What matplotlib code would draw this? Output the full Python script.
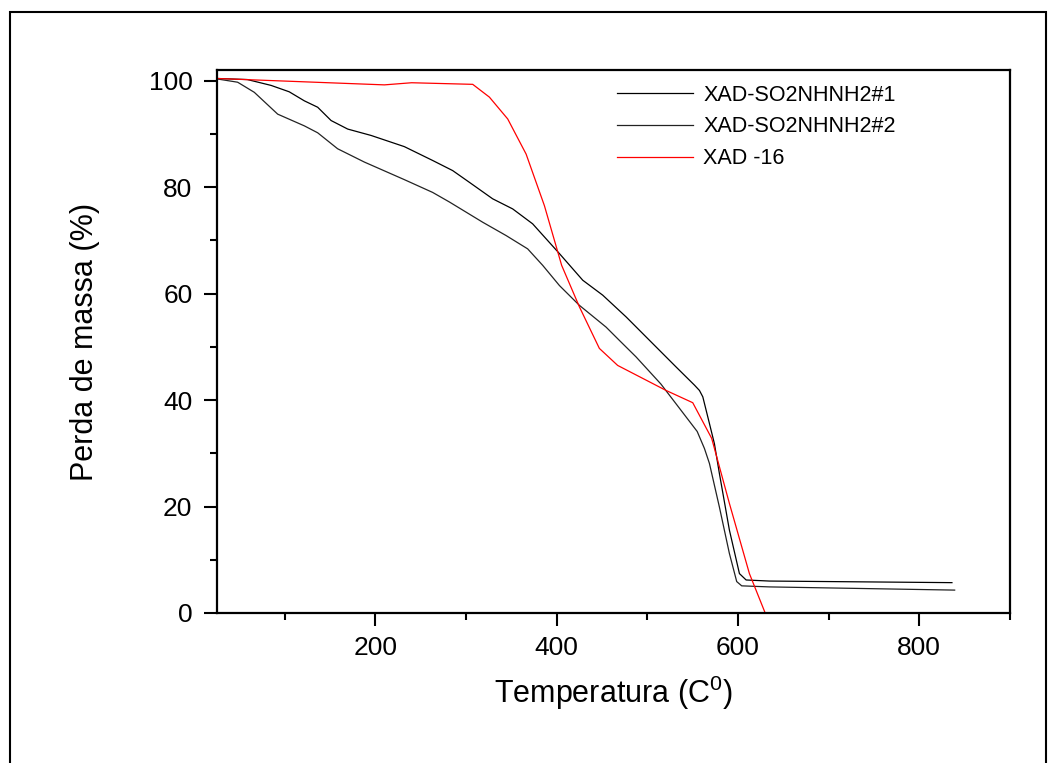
import matplotlib
matplotlib.use("Agg")
import matplotlib.pyplot as plt
from matplotlib.patches import Rectangle
from matplotlib.ticker import MultipleLocator

plt.rcParams["font.family"] = ["Liberation Sans", "DejaVu Sans"]
plt.rcParams["mathtext.fontset"] = "custom"
plt.rcParams["mathtext.rm"] = "Liberation Sans"

# curvas TGA
temp_1 = [25.7, 58.8, 85, 105, 121.7, 136.4, 151.2, 169.5, 195.3, 232, 263.2, 285.3,
          303.7, 329.4, 351.5, 373.5, 388.3, 403.1, 428.8, 450.8, 476.7, 506,
          531.8, 552, 557.5, 561.2, 568.5, 574, 579.5, 590.5, 601.6, 609, 634.6, 836]
mass_1 = [100.4, 100.2, 99.1, 97.9, 96.2, 95.0, 92.5, 90.9, 89.7, 87.6, 85.0, 83.1,
          80.9, 77.8, 75.9, 73.1, 70.3, 67.5, 62.5, 59.7, 55.6, 50.6,
          46.2, 42.8, 41.8, 40.6, 35.6, 31.8, 26.2, 15.6, 7.4, 6.2, 6.0, 5.7]

temp_2 = [26, 48.1, 66.5, 92.3, 121.7, 136.4, 158.4, 187.9, 232, 263.2, 281.7,
          318.4, 344.2, 368, 384.6, 403.1, 425, 454.5, 469.2, 487.6, 515, 533,
          555, 563, 568.5, 579.5, 590.5, 598.6, 604.1, 634.6, 839]
mass_2 = [100.3, 99.7, 97.8, 93.7, 91.5, 90.2, 87.2, 84.7, 81.4, 79.0, 77.2,
          73.4, 70.9, 68.4, 65.3, 61.5, 57.8, 53.7, 51.2, 48.1, 43.0, 39.0,
          34.1, 30.9, 28.1, 19.9, 11.2, 5.9, 5.1, 4.9, 4.3]

temp_xad = [25, 210, 240, 307.4, 325.8, 346, 366.3, 386.5, 405.5, 425.1, 447.1,
            467.3, 520.7, 550.1, 571, 590.5, 612.6, 630]
mass_xad = [100.4, 99.2, 99.6, 99.3, 96.9, 92.8, 86.2, 76.5, 65.3, 57.5, 49.7,
            46.5, 41.8, 39.5, 32.8, 20.6, 7.4, 0.0]

labels = ["XAD-SO2NHNH2#1", "XAD-SO2NHNH2#2", "XAD -16"]

fig = plt.figure(figsize=(10.57, 7.63), dpi=100)
ax = fig.add_axes([0.205, 0.1966, 0.7505, 0.7117])

ax.plot(temp_1, mass_1, color="black", lw=0.9, label=labels[0])
ax.plot(temp_2, mass_2, color="#222222", lw=0.9, label=labels[1])
ax.plot(temp_xad, mass_xad, color="red", lw=0.9, label=labels[2])

ax.set_xlim(25, 900)
ax.set_ylim(0, 102)
ax.xaxis.set_major_locator(MultipleLocator(200))
ax.xaxis.set_minor_locator(MultipleLocator(100))
ax.yaxis.set_major_locator(MultipleLocator(20))
ax.yaxis.set_minor_locator(MultipleLocator(10))

for sp in ax.spines.values():
    sp.set_linewidth(1.6)
ax.tick_params(which="major", direction="out", length=9.5, width=1.5,
               labelsize=19)
ax.tick_params(which="minor", direction="out", length=5, width=1.5)
ax.tick_params(axis="y", which="major", pad=8)
ax.tick_params(axis="x", which="major", pad=7)

ax.set_xlabel(r"Temperatura (C$^0$)", fontsize=22, labelpad=10)
ax.set_ylabel("Perda de massa (%)", fontsize=22, labelpad=35)

ax.legend(loc="upper left", bbox_to_anchor=(0.505, 0.973), frameon=False,
          fontsize=15.5, handlelength=3.5, handletextpad=0.5,
          labelspacing=0.5, borderpad=0, borderaxespad=0)

# marco exterior de la figura
frame = Rectangle((10 / 1057, -0.02), 1036 / 1057, 0.02 + 751 / 763,
                  transform=fig.transFigure, fill=False, lw=1.5,
                  edgecolor="black", clip_on=False)
fig.patches.append(frame)

fig.savefig("out.png", dpi=100)
